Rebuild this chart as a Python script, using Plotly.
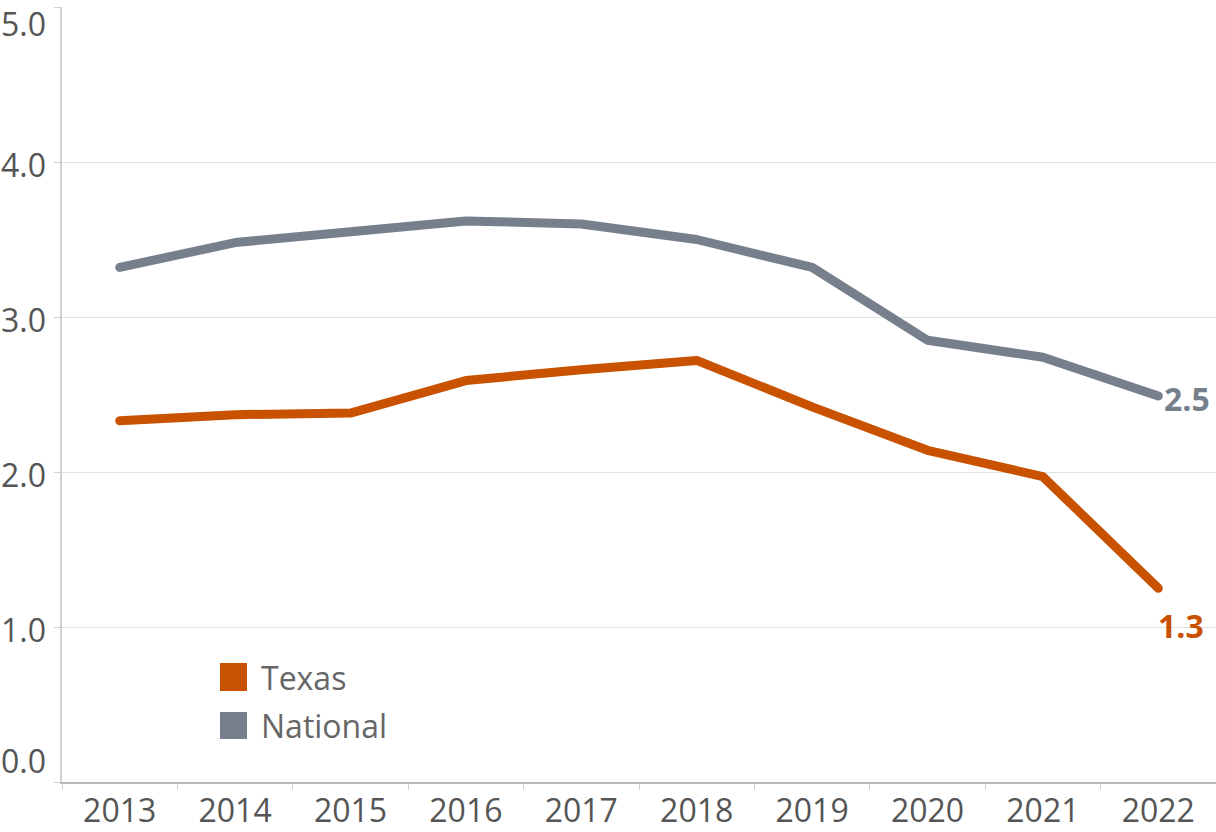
import plotly.graph_objects as go

years = ["2013", "2014", "2015", "2016", "2017", "2018", "2019", "2020", "2021", "2022"]
texas = [2.33, 2.37, 2.38, 2.59, 2.66, 2.72, 2.42, 2.14, 1.97, 1.25]
national = [3.32, 3.48, 3.55, 3.62, 3.60, 3.50, 3.32, 2.85, 2.74, 2.49]
y_ticks = [0, 1, 2, 3, 4, 5]
y_tick_labels = ["0.0", "1.0", "2.0", "3.0", "4.0", "5.0"]
series_names = ["Texas", "National"]
end_labels = ["1.3", "2.5"]

ORANGE = "#C85200"
GRAY = "#767F8B"
TEXT = "#555555"
FONT = "Open Sans"

W, H = 1216, 832
ML, MR, MT, MB = 62, 0, 7, 50
PW, PH = W - ML - MR, H - MT - MB


def px_x(px):
    return (px - ML) / PW


def px_y(py):
    return (H - MB - py) / PH


fig = go.Figure()
fig.add_trace(go.Scatter(x=years, y=national, mode="lines", name="National",
                         line=dict(color=GRAY, width=9), showlegend=False))
fig.add_trace(go.Scatter(x=years, y=texas, mode="lines", name="Texas",
                         line=dict(color=ORANGE, width=9), showlegend=False))

annotations = []
# y tick labels (shifted inward at the ends as in the reference)
shifts = {0: 22, 5: -16}
for v, lab in zip(y_ticks, y_tick_labels):
    annotations.append(dict(x=0, xref="paper", y=v, yref="y", text=lab, showarrow=False,
                            xanchor="right", yanchor="middle", xshift=-14,
                            yshift=shifts.get(v, -2),
                            font=dict(family=FONT, size=32, color=TEXT)))

last = len(years) - 1
# end labels
annotations.append(dict(x=last, xref="x", y=national[-1], yref="y",
                        text="<b>%s</b>" % end_labels[1],
                        showarrow=False, xanchor="left", yanchor="middle", xshift=4, yshift=-2,
                        font=dict(family=FONT, size=32, color=GRAY)))
annotations.append(dict(x=last, xref="x", y=texas[-1], yref="y",
                        text="<b>%s</b>" % end_labels[0],
                        showarrow=False, xanchor="center", yanchor="middle", xshift=23, yshift=-37,
                        font=dict(family=FONT, size=32, color=ORANGE)))

# manual legend
shapes = []
leg = [(series_names[0], ORANGE, 663, 691), (series_names[1], GRAY, 712, 739)]
for name, col, y0, y1 in leg:
    shapes.append(dict(type="rect", xref="paper", yref="paper",
                       x0=px_x(220), x1=px_x(247), y0=px_y(y1), y1=px_y(y0),
                       fillcolor=col, line=dict(width=0)))
    annotations.append(dict(x=px_x(259), xref="paper", y=px_y((y0 + y1) / 2), yref="paper",
                            text=name, showarrow=False, xanchor="left", yanchor="middle",
                            font=dict(family=FONT, size=32, color="#666666")))

fig.update_layout(
    width=W, height=H,
    margin=dict(l=ML, r=MR, t=MT, b=MB),
    paper_bgcolor="white", plot_bgcolor="white",
    showlegend=False,
    annotations=annotations,
    shapes=shapes,
    xaxis=dict(type="category", tickson="boundaries", ticks="outside", ticklen=6,
               tickcolor="#d0d0d0", tickwidth=1,
               showline=True, linecolor="#b8b8b8", linewidth=1.5,
               showgrid=False, range=[-0.5, 9.5],
               tickfont=dict(family=FONT, size=32, color=TEXT)),
    yaxis=dict(range=[0, 5], tickvals=y_ticks, showticklabels=False,
               showgrid=True, gridcolor="#e2e2e2", gridwidth=1,
               showline=True, linecolor="#d0d0d0", linewidth=1.5,
               zeroline=False, ticks="outside", ticklen=6, tickcolor="#d0d0d0"),
)

post = (
    "document.body.style.margin='0';"
    "document.querySelectorAll('.scatterlayer path.js-line').forEach(function(p){"
    "p.style.strokeLinecap='round';p.style.strokeLinejoin='round';});"
)
fig.write_html("out.html", post_script=post, config={"displayModeBar": False})
